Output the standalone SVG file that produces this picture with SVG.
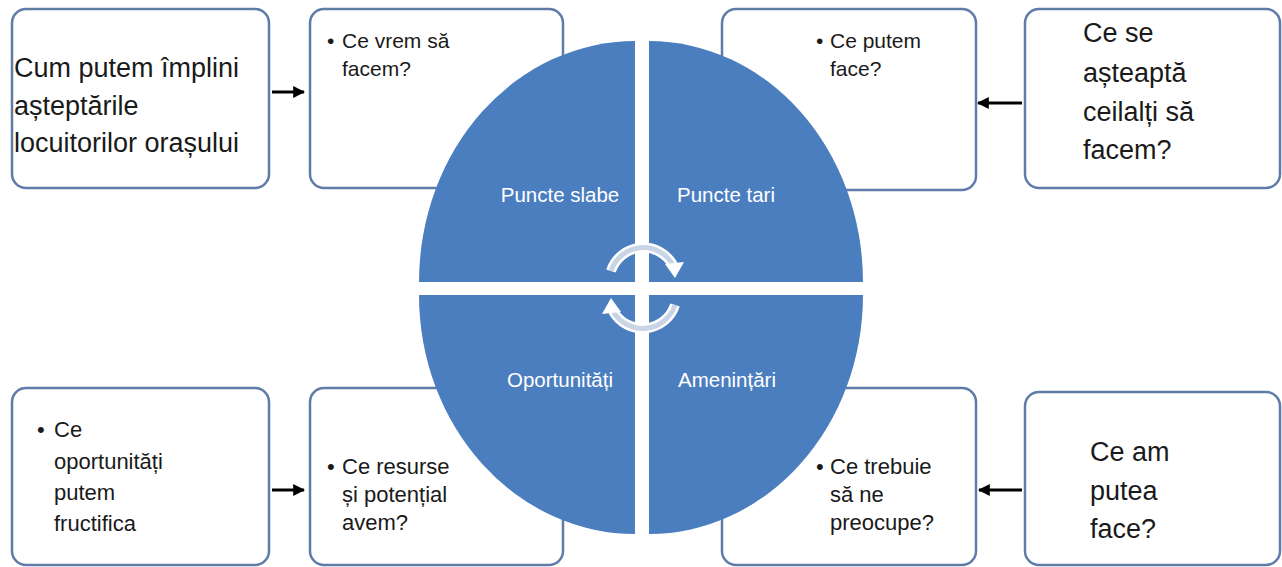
<svg xmlns="http://www.w3.org/2000/svg" width="1282" height="567" viewBox="0 0 1282 567">
<defs>
<style>
.box{fill:#ffffff;stroke:#5f7ca8;stroke-width:2.5}
.q{fill:#4b7ebf}
.t{font-family:"Liberation Sans",Arial,sans-serif;fill:#1a1a1a}
.big{font-size:27px}
.sm{font-size:21px}
.sm2{font-size:22px}
.lbl{font-family:"Liberation Sans",Arial,sans-serif;font-size:20.5px;fill:#ffffff;text-anchor:middle}
.conn{stroke:#000000;stroke-width:3;fill:none}
.cyc{fill:none;stroke:#ffffff;stroke-width:10}
.cyci{fill:none;stroke:#c9d4e6;stroke-width:5}
</style>
<marker id="ah" viewBox="0 0 10 10" refX="9" refY="5" markerWidth="4" markerHeight="4" orient="auto" markerUnits="strokeWidth">
<path d="M0,0 L10,5 L0,10 Z" fill="#000000"/>
</marker>
</defs>
<rect width="1282" height="567" fill="#ffffff"/>

<g id="box-implini">
<rect class="box" x="12" y="9" width="257" height="179" rx="14"/>
<text class="t big" x="14" y="77">Cum putem împlini</text>
<text class="t big" x="14" y="115">așteptările</text>
<text class="t big" x="14" y="152">locuitorilor orașului</text>
</g>
<g id="box-vrem">
<rect class="box" x="310" y="9" width="253" height="179" rx="14"/>
<text class="t sm" x="327" y="48">•</text>
<text class="t sm" x="342" y="48">Ce vrem să</text>
<text class="t sm" x="342" y="76">facem?</text>
</g>
<g id="box-putem">
<rect class="box" x="722" y="9" width="254" height="181" rx="14"/>
<text class="t sm" x="816" y="48">•</text>
<text class="t sm" x="830" y="48">Ce putem</text>
<text class="t sm" x="830" y="76">face?</text>
</g>
<g id="box-asteapta">
<rect class="box" x="1025" y="9" width="255" height="179" rx="14"/>
<text class="t big" x="1083" y="42">Ce se</text>
<text class="t big" x="1083" y="82">așteaptă</text>
<text class="t big" x="1083" y="121">ceilalți să</text>
<text class="t big" x="1083" y="159">facem?</text>
</g>
<g id="box-oportunitati">
<rect class="box" x="12" y="388" width="257" height="177" rx="14"/>
<text class="t sm2" x="37" y="437">•</text>
<text class="t sm2" x="54" y="437">Ce</text>
<text class="t sm2" x="54" y="469">oportunități</text>
<text class="t sm2" x="54" y="500">putem</text>
<text class="t sm2" x="54" y="531">fructifica</text>
</g>
<g id="box-resurse">
<rect class="box" x="310" y="388" width="253" height="177" rx="14"/>
<text class="t sm2" x="327" y="474">•</text>
<text class="t sm2" x="342" y="474">Ce resurse</text>
<text class="t sm2" x="342" y="502">și potențial</text>
<text class="t sm2" x="342" y="530">avem?</text>
</g>
<g id="box-trebuie">
<rect class="box" x="722" y="388" width="254" height="177" rx="14"/>
<text class="t sm2" x="816" y="474">•</text>
<text class="t sm2" x="830" y="474">Ce trebuie</text>
<text class="t sm2" x="830" y="502">să ne</text>
<text class="t sm2" x="830" y="530">preocupe?</text>
</g>
<g id="box-am-putea">
<rect class="box" x="1025" y="392" width="255" height="173" rx="14"/>
<text class="t big" x="1090" y="461">Ce am</text>
<text class="t big" x="1090" y="500">putea</text>
<text class="t big" x="1090" y="538">face?</text>
</g>

<g id="swot-circle">
<path class="q" d="M635,282 L419,282 A216,241 0 0 1 635,41 Z"/>
<path class="q" d="M649,282 L649,41 A214,241 0 0 1 863,282 Z"/>
<path class="q" d="M635,295 L635,534 A216,239 0 0 1 419,295 Z"/>
<path class="q" d="M649,295 L863,295 A214,239 0 0 1 649,534 Z"/>
<text class="lbl" x="560" y="202">Puncte slabe</text>
<text class="lbl" x="726" y="202">Puncte tari</text>
<text class="lbl" x="560" y="387">Oportunități</text>
<text class="lbl" x="727" y="387">Amenințări</text>
</g>

<g id="cycle-arrows">
<path class="cyc" d="M611,271 A34,34 0 0 1 673,265"/>
<path class="cyci" d="M611,271 A34,34 0 0 1 673,265"/>
<path d="M665,264 L684,262 L675,278 Z" fill="#ffffff"/>
<path class="cyc" d="M675,305 A34,34 0 0 1 613,311"/>
<path class="cyci" d="M675,305 A34,34 0 0 1 613,311"/>
<path d="M621,312 L602,314 L611,298 Z" fill="#ffffff"/>
</g>

<g id="connectors">
<line class="conn" x1="272" y1="92" x2="304" y2="92" marker-end="url(#ah)"/>
<line class="conn" x1="1022" y1="103" x2="978" y2="103" marker-end="url(#ah)"/>
<line class="conn" x1="272" y1="490" x2="304" y2="490" marker-end="url(#ah)"/>
<line class="conn" x1="1022" y1="490" x2="979" y2="490" marker-end="url(#ah)"/>
</g>
</svg>
